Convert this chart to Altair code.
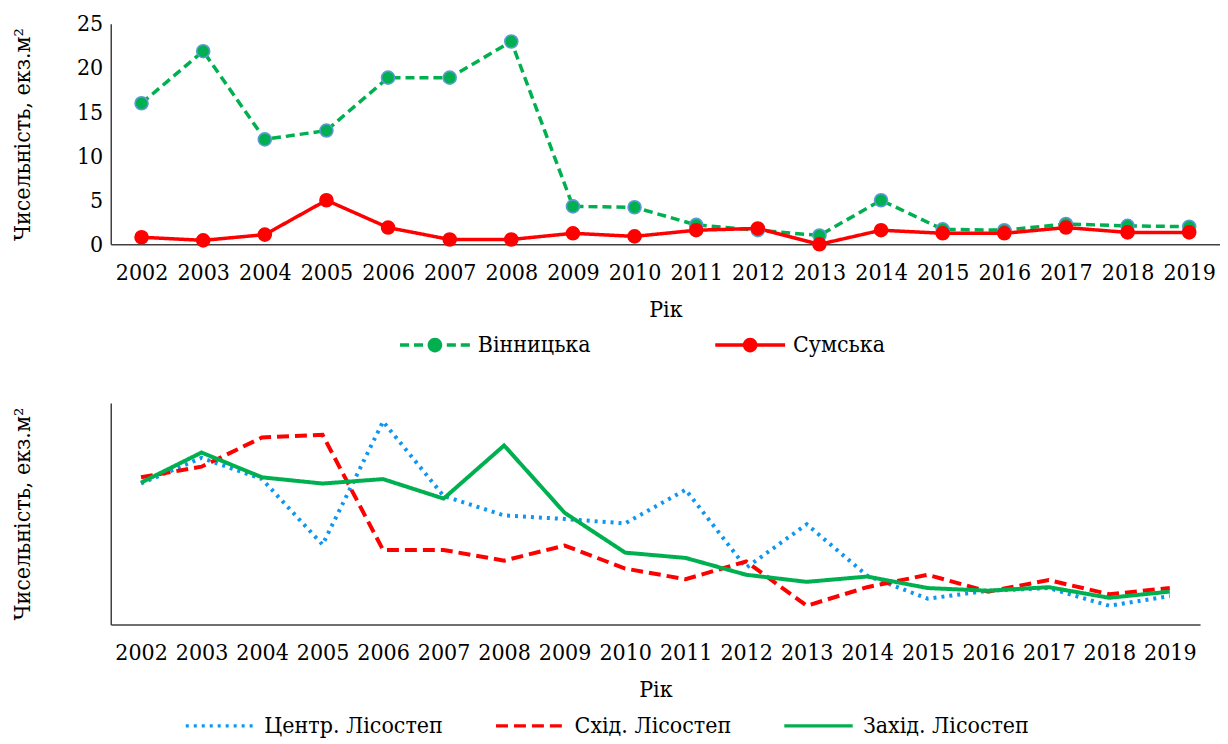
import altair as alt
import pandas as pd

FONT = "DejaVu Serif Condensed, DejaVu Serif, serif"
FS = 23

years = [str(y) for y in range(2002, 2020)]

# top panel
top_names = ["Вінницька", "Сумська"]
vinnytsia = [16.0, 21.9, 11.9, 12.9, 18.9, 18.9, 23.0, 4.3, 4.2, 2.2, 1.6, 1.0, 5.0, 1.7, 1.6, 2.3, 2.1, 2.0]
sumy = [0.8, 0.45, 1.1, 5.0, 1.9, 0.55, 0.55, 1.25, 0.9, 1.6, 1.8, 0.0, 1.6, 1.25, 1.25, 1.9, 1.35, 1.35]

# bottom panel
bottom_names = ["Центр. Лісостеп", "Схід. Лісостеп", "Захід. Лісостеп"]
centr = [15.9, 18.8, 16.4, 9.0, 22.9, 14.5, 12.3, 11.9, 11.4, 15.2, 6.4, 11.3, 5.5, 2.9, 3.8, 4.1, 2.1, 3.2]
skhid = [16.6, 17.8, 21.1, 21.4, 8.4, 8.4, 7.2, 8.9, 6.3, 5.1, 7.1, 2.1, 4.2, 5.6, 3.7, 5.0, 3.4, 4.1]
zakhid = [16.0, 19.4, 16.6, 15.9, 16.4, 14.2, 20.2, 12.6, 8.1, 7.5, 5.6, 4.8, 5.4, 4.1, 3.8, 4.2, 3.0, 3.7]

y_title = "Чисельність, екз.м²"
x_title = "Рік"

df_top = pd.DataFrame({
    "year": years * 2,
    "value": vinnytsia + sumy,
    "series": [top_names[0]] * len(years) + [top_names[1]] * len(years),
})
df_bot = pd.DataFrame({
    "year": years * 3,
    "value": centr + skhid + zakhid,
    "series": sum([[n] * len(years) for n in bottom_names], []),
})

AX = "#404040"

# legend glyphs (filled shapes): dashed line + dot, solid line + dot
CIRCLE = "M-0.21,0A0.21,0.21,0,1,1,0.21,0A0.21,0.21,0,1,1,-0.21,0Z"
def bar(a, b, h=0.05):
    return f"M{a},{-h}H{b}V{h}H{a}Z"
SYM_DASHED = bar(-1, -0.74) + bar(-0.6, -0.34) + CIRCLE + bar(0.34, 0.6) + bar(0.74, 1)
SYM_SOLID = bar(-1, 1) + CIRCLE


def x_axis():
    return alt.Axis(title=x_title, labelAngle=0, ticks=False, labelPadding=17,
                    titlePadding=14, domainColor=AX, domainWidth=1.5, grid=False)


top_legend = alt.Legend(
    title=None, orient="none", legendX=290, legendY=287, direction="horizontal",
    symbolSize=4900, symbolStrokeWidth=0, labelOffset=8, columnPadding=124,
    labelFont=FONT, labelFontSize=FS, labelColor="black", labelLimit=300,
)

top_color = alt.Color("series:N", scale=alt.Scale(domain=top_names, range=["#00B050", "#FF0000"]),
                      legend=top_legend)
top_dash = alt.StrokeDash("series:N", scale=alt.Scale(domain=top_names, range=[[9, 5], [1, 0]]),
                          legend=None)
top_shape = alt.Shape("series:N", scale=alt.Scale(domain=top_names, range=[SYM_DASHED, SYM_SOLID]),
                      legend=top_legend)

top_x = alt.X("year:O", sort=years, axis=x_axis())
top_y = alt.Y("value:Q", scale=alt.Scale(domain=[0, 25]),
              axis=alt.Axis(title=y_title, values=[0, 5, 10, 15, 20, 25], ticks=False,
                            labelPadding=8, minExtent=34, maxExtent=34, titlePadding=42,
                            domainColor=AX, domainWidth=1.5, grid=False))

top_line = alt.Chart(df_top).mark_line(strokeWidth=3.5).encode(
    x=top_x, y=top_y, color=top_color, strokeDash=top_dash)
top_pts = alt.Chart(df_top).mark_point(filled=True, size=170, strokeWidth=1.6, opacity=1).encode(
    x=top_x, y=top_y, color=top_color,
    stroke=alt.Stroke("series:N", scale=alt.Scale(domain=top_names, range=["#5B9BD5", "#FF0000"]),
                      legend=None))
# legend-only layer (no rows survive the filter)
top_key = alt.Chart(df_top).transform_filter("datum.value < -1").mark_point(
    filled=True, size=4900).encode(x=top_x, y=top_y, color=top_color, shape=top_shape)
top = alt.layer(top_line, top_pts, top_key).properties(width=1112, height=221)

bot_legend = alt.Legend(
    title=None, orient="none", legendX=73, legendY=287, direction="horizontal",
    symbolType="stroke", symbolSize=4700, symbolStrokeWidth=3.5, labelOffset=8, columnPadding=46,
    labelFont=FONT, labelFontSize=FS, labelColor="black", labelLimit=300,
)
bot_color = alt.Color("series:N", scale=alt.Scale(domain=bottom_names,
                                                  range=["#0D97F2", "#FF0000", "#00B050"]),
                      legend=bot_legend)
bot_dash = alt.StrokeDash("series:N", scale=alt.Scale(domain=bottom_names,
                                                      range=[[3, 5], [12, 6], [1, 0]]),
                          legend=bot_legend)
bot_x = alt.X("year:O", sort=years, axis=x_axis())
bot_y = alt.Y("value:Q", scale=alt.Scale(domain=[0, 25]),
              axis=alt.Axis(title=y_title, labels=False, ticks=False, minExtent=34, maxExtent=34,
                            titlePadding=42, domainColor=AX, domainWidth=1.5, grid=False))
bottom = alt.Chart(df_bot).mark_line(strokeWidth=4).encode(
    x=bot_x, y=bot_y, color=bot_color, strokeDash=bot_dash
).properties(width=1092, height=222)

chart = alt.vconcat(top, bottom, spacing=46).resolve_scale(
    color="independent", strokeDash="independent", shape="independent"
).properties(
    padding={"left": 4, "top": 4, "right": 0, "bottom": 0},
    background="white",
).configure(font=FONT).configure_axis(
    labelFont=FONT, titleFont=FONT, labelFontSize=FS, titleFontSize=FS,
    labelColor="black", titleColor="black", titleFontWeight="normal",
).configure_view(stroke=None)

chart.save("out.html", embed_options={"renderer": "svg", "actions": False})
